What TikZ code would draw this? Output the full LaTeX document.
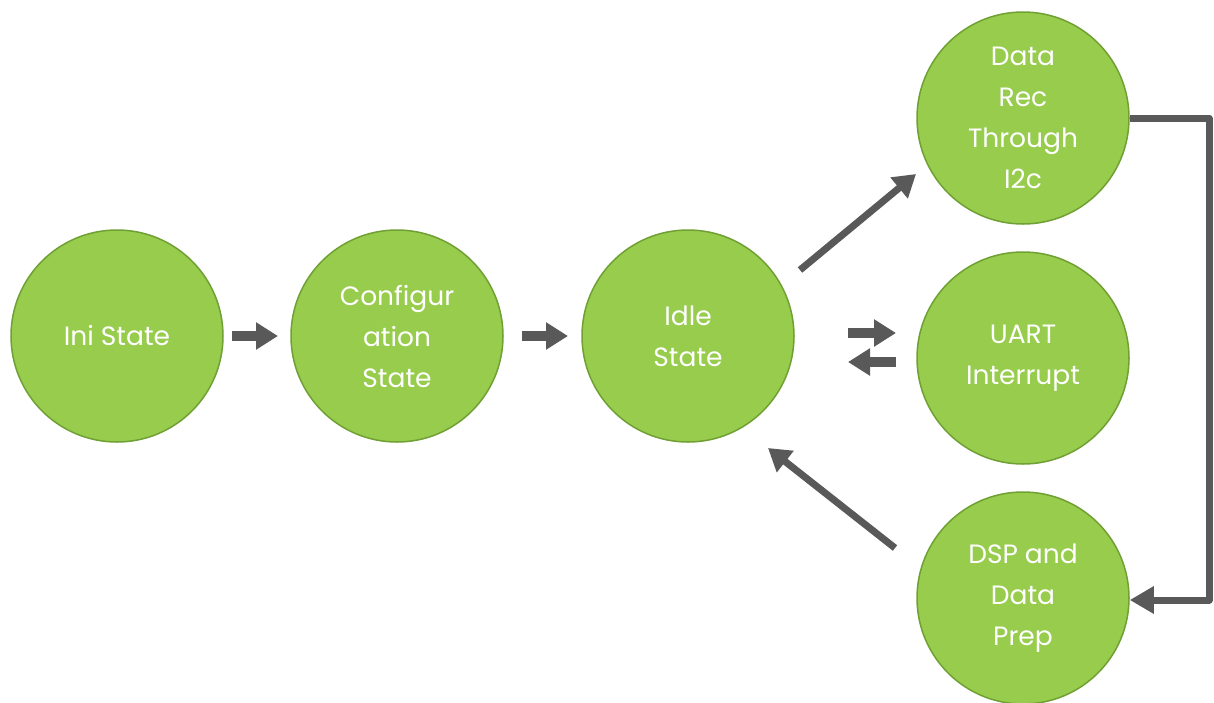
\documentclass[tikz,border=0pt]{standalone}
\usepackage{fontspec}
\setmainfont{Poppins}
\usetikzlibrary{arrows.meta}
\definecolor{stfill}{RGB}{151,204,77}
\definecolor{stline}{RGB}{112,160,52}
\definecolor{arr}{RGB}{89,89,89}
\begin{document}
\begin{tikzpicture}[x=1pt,y=-1pt,
  state/.style={circle,draw=stline,line width=1.5pt,fill=stfill,minimum size=212pt,inner sep=0pt,
    text=white,font=\fontsize{26.5}{41}\selectfont,align=center},
  blk/.style={draw=arr,line width=10pt,-{Triangle[length=22pt,width=26pt]}},
  thin/.style={draw=arr,line width=7pt,-{Triangle[length=22pt,width=26pt]}}]
\useasboundingbox (0,0) rectangle (1214,702);
\node[state] (ini) at (117,336) {Ini State};
\node[state] (cfg) at (397,336) {Configur\\ation\\State};
\node[state] (idle) at (688,336) {Idle\\State};
\node[state] (rec) at (1023,118) {Data\\Rec\\Through\\I2c};
\node[state] (uart) at (1023,358) {UART\\Interrupt};
\node[state] (dsp) at (1023,598) {DSP and\\Data\\Prep};
\coordinate (a1s) at (232,336); \coordinate (a1e) at (278,336);
\coordinate (a2s) at (522,336); \coordinate (a2e) at (568,336);
\coordinate (a3s) at (848,333); \coordinate (a3e) at (896,333);
\coordinate (a4s) at (896,362); \coordinate (a4e) at (848,362);
\coordinate (a5s) at (800,270); \coordinate (a5e) at (916,174);
\coordinate (a6s) at (895,548); \coordinate (a6e) at (768,448);
\coordinate (c1) at (1209,118); \coordinate (c2) at (1209,600);
\draw[blk] (a1s) -- (a1e);
\draw[blk] (a2s) -- (a2e);
\draw[blk] (a3s) -- (a3e);
\draw[blk] (a4s) -- (a4e);
\draw[thin] (a5s) -- (a5e);
\draw[thin] (a6s) -- (a6e);
\draw[draw=arr,line width=7pt,line join=round,-{Triangle[length=24pt,width=26pt]}] (rec.east) -- (c1) -- (c2) -- (dsp.east |- c2);
\end{tikzpicture}
\end{document}
